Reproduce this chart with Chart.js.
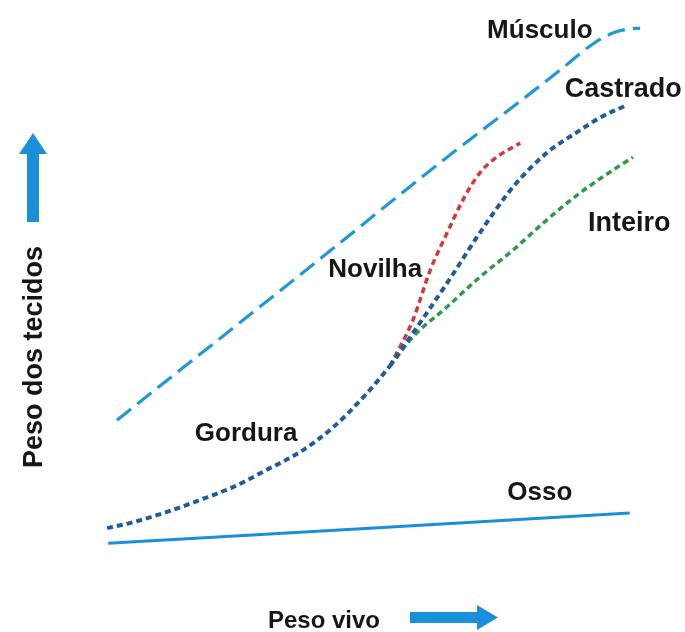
<!DOCTYPE html>
<html>
<head>
<meta charset="utf-8">
<script src="https://cdn.jsdelivr.net/npm/chart.js@4/dist/chart.umd.min.js"></script>
<style>
html,body{margin:0;padding:0;background:#fff;}
canvas{display:block;}
</style>
</head>
<body>
<canvas id="c" width="685" height="632"></canvas>
<script>
// Data (x = peso vivo, y = peso dos tecidos, 0..100 relative units)
const musculoX = [3.1, 36.7, 64.2, 78.3, 84.4, 90.5, 94.1, 96.7, 99.1];
const musculoY = [25.9, 52.8, 75.0, 85.9, 90.7, 95.6, 97.6, 98.3, 98.5];

const ossoX = [1.5, 49.5, 97.2];
const ossoY = [3.1, 5.9, 8.7];

const gorduraX = [1.3, 6.1, 12.3, 18.3, 24.4, 30.6, 36.7, 42.8, 49.0, 53.2];
const gorduraY = [5.9, 7.0, 8.9, 11.1, 13.5, 16.7, 20.0, 24.6, 30.9, 35.9];

const castradoX = [53.2, 57.4, 63.7, 69.7, 75.8, 82.0, 88.1, 91.7, 96.3];
const castradoY = [35.9, 42.0, 51.3, 60.6, 69.1, 75.4, 79.6, 81.9, 84.1];

const novilhaX = [53.2, 57.4, 60.6, 63.7, 66.6, 69.7, 72.8, 77.1];
const novilhaY = [35.9, 44.4, 53.7, 60.6, 66.7, 71.7, 74.6, 77.2];

const inteiroX = [53.2, 57.4, 63.7, 69.7, 75.8, 82.0, 88.1, 94.1, 97.8];
const inteiroY = [35.9, 41.3, 46.9, 52.4, 57.4, 63.0, 68.0, 72.2, 74.6];

const seriesNames = ["Músculo", "Osso", "Gordura", "Castrado", "Novilha", "Inteiro"];
const xAxisTitle = "Peso vivo";
const yAxisTitle = "Peso dos tecidos";

function pts(xs, ys){ return xs.map((x,i)=>({x:x, y:ys[i]})); }

// Label anchors (data units) for the curve names
const labelAnchors = [
  {text:"Músculo",  x:80.7, y:96.7, size:26},
  {text:"Castrado", x:96.0, y:85.7, size:27},
  {text:"Inteiro",  x:97.1, y:60.9, size:27},
  {text:"Novilha",  x:50.5, y:52.4, size:26},
  {text:"Gordura",  x:26.8, y:22.0, size:26},
  {text:"Osso",     x:80.7, y:11.1, size:26}
];

const decor = {
  id:'decor',
  afterDatasetsDraw(chart){
    const ctx = chart.ctx;
    const xs = chart.scales.x, ys = chart.scales.y;
    ctx.save();
    ctx.fillStyle = '#161616';
    ctx.textAlign = 'center';
    ctx.textBaseline = 'alphabetic';
    labelAnchors.forEach(l=>{
      ctx.font = 'bold ' + l.size + 'px "Liberation Sans", Arial, sans-serif';
      ctx.fillText(l.text, xs.getPixelForValue(l.x), ys.getPixelForValue(l.y));
    });
    // x axis title
    ctx.font = 'bold 24px "Liberation Sans", Arial, sans-serif';
    ctx.fillText(xAxisTitle, 324, 628);
    // y axis title
    ctx.save();
    ctx.translate(42, 357);
    ctx.rotate(-Math.PI/2);
    ctx.font = 'bold 27px "Liberation Sans", Arial, sans-serif';
    ctx.fillText(yAxisTitle, 0, 0);
    ctx.restore();
    // arrows
    ctx.fillStyle = '#1a8fda';
    ctx.beginPath();
    ctx.moveTo(410, 612); ctx.lineTo(477, 612); ctx.lineTo(477, 605);
    ctx.lineTo(498, 617.5); ctx.lineTo(477, 630); ctx.lineTo(477, 623);
    ctx.lineTo(410, 623); ctx.closePath(); ctx.fill();
    ctx.beginPath();
    ctx.moveTo(27, 222); ctx.lineTo(27, 154); ctx.lineTo(19, 154);
    ctx.lineTo(33, 133); ctx.lineTo(47, 154); ctx.lineTo(39, 154);
    ctx.lineTo(39, 222); ctx.closePath(); ctx.fill();
    ctx.restore();
  }
};

const common = {pointRadius:0, fill:false, cubicInterpolationMode:'monotone', borderCapStyle:'butt'};

new Chart(document.getElementById('c'), {
  type:'line',
  data:{
    datasets:[
      Object.assign({label:seriesNames[0], data:pts(musculoX,musculoY), borderColor:'#2199d6', borderWidth:3.2, borderDash:[18,8]}, common),
      Object.assign({label:seriesNames[1], data:pts(ossoX,ossoY), borderColor:'#1a8fd8', borderWidth:3, tension:0}, common),
      Object.assign({label:seriesNames[2], data:pts(gorduraX,gorduraY), borderColor:'#1f5c9c', borderWidth:4, borderDash:[6,4]}, common),
      Object.assign({label:seriesNames[3], data:pts(castradoX,castradoY), borderColor:'#1f5c9c', borderWidth:4, borderDash:[6,4]}, common),
      Object.assign({label:seriesNames[4], data:pts(novilhaX,novilhaY), borderColor:'#d23a3a', borderWidth:3.5, borderDash:[6,4]}, common),
      Object.assign({label:seriesNames[5], data:pts(inteiroX,inteiroY), borderColor:'#2f9a48', borderWidth:3.5, borderDash:[6,4]}, common)
    ]
  },
  options:{
    responsive:false,
    animation:false,
    layout:{padding:{left:100, right:40, top:20, bottom:72}},
    plugins:{legend:{display:false}, tooltip:{enabled:false}},
    scales:{
      x:{type:'linear', min:0, max:100, display:false},
      y:{type:'linear', min:0, max:100, display:false}
    }
  },
  plugins:[decor]
});
</script>
</body>
</html>
